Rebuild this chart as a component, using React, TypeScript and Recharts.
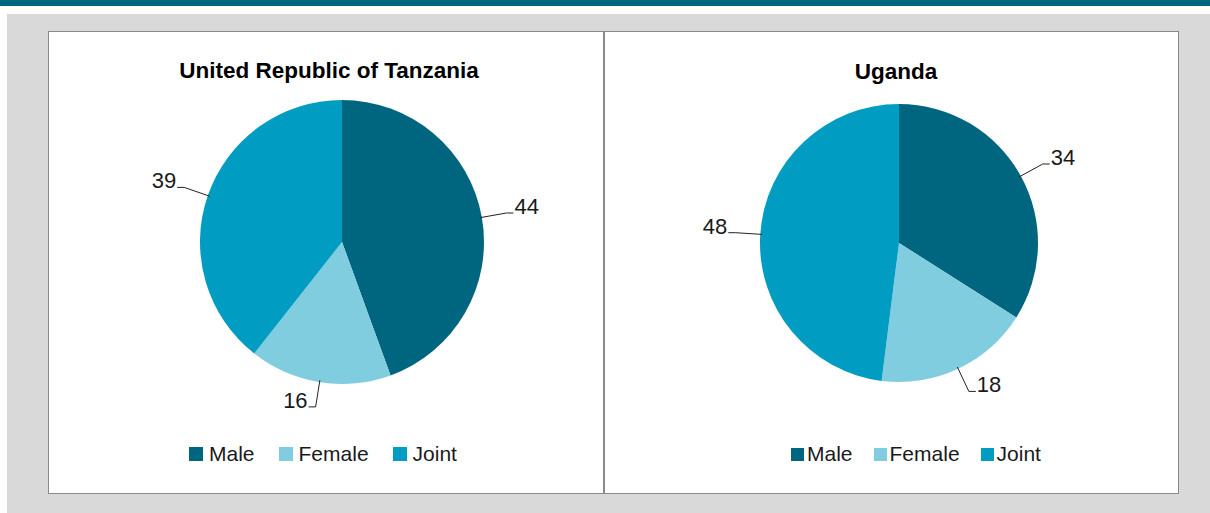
import React from 'react'
import { PieChart, Pie, Cell, Legend } from 'recharts'

const categories = ['Male', 'Female', 'Joint']
const tanzaniaValues = [44, 16, 39]
const ugandaValues = [34, 18, 48]
const colors = ['#00657e', '#80cde0', '#009cc2']

const FONT = '"Liberation Sans", Arial, Helvetica, sans-serif'
const RAD = Math.PI / 180

function toRows(values: number[]) {
  return categories.map((name, i) => ({ name, value: values[i] }))
}

function renderLabel(props: any) {
  const { cx, cy, midAngle, outerRadius, value } = props
  const cos = Math.cos(-midAngle * RAD)
  const sin = Math.sin(-midAngle * RAD)
  const sx = cx + (outerRadius - 2) * cos
  const sy = cy + (outerRadius - 2) * sin
  const mx = cx + (outerRadius + 25) * cos
  const my = cy + (outerRadius + 25) * sin
  const ex = mx + (cos >= 0 ? 1 : -1) * 7
  return (
    <g>
      <polyline points={`${sx},${sy} ${mx},${my} ${ex},${my}`} fill="none" stroke="#222" strokeWidth={1} />
      <text
        x={ex + (cos >= 0 ? 1 : -1)}
        y={my + 1}
        textAnchor={cos >= 0 ? 'start' : 'end'}
        fontSize={22}
        fontFamily={FONT}
        fill="#1a1a1a"
      >
        {value}
      </text>
    </g>
  )
}

function makeLegend(left: number, box: number, gap: number, spacing: number) {
  return () => (
    <div style={{ display: 'flex', alignItems: 'center', paddingLeft: left, fontFamily: FONT, fontSize: 21, color: '#1a1a1a' }}>
      {categories.map((c, i) => (
        <div key={c} style={{ display: 'flex', alignItems: 'center', marginRight: spacing }}>
          <span style={{ width: box, height: box, background: colors[i], display: 'inline-block', marginRight: gap }} />
          <span>{c}</span>
        </div>
      ))}
    </div>
  )
}

function Panel({ title, values, width, cx, cy, r, titleX, titleY, legend }: {
  title: string
  values: number[]
  width: number
  cx: number
  cy: number
  r: number
  titleX: number
  titleY: number
  legend: () => React.ReactElement
}) {
  return (
    <div style={{ position: 'relative', width, height: 461 }}>
      <div style={{
        position: 'absolute', left: titleX - 250, width: 500, top: titleY - 14, textAlign: 'center',
        fontFamily: FONT, fontWeight: 'bold', fontSize: 22.5, color: '#000',
      }}>
        {title}
      </div>
      <PieChart width={width} height={461} margin={{ top: 0, right: 0, bottom: 0, left: 0 }}>
        <Pie
          data={toRows(values)}
          dataKey="value"
          nameKey="name"
          cx={cx}
          cy={cy}
          outerRadius={r}
          startAngle={90}
          endAngle={-270}
          stroke="none"
          label={renderLabel}
          labelLine={false}
          isAnimationActive={false}
        >
          {values.map((_, i) => <Cell key={i} fill={colors[i]} />)}
        </Pie>
        <Legend content={legend} wrapperStyle={{ top: 410, left: 0, width }} />
      </PieChart>
    </div>
  )
}

export default function App() {
  return (
    <div style={{ position: 'absolute', left: 0, top: 0, width: 1210, height: 513, background: '#fff', overflow: 'hidden' }}>
      <div style={{ position: 'absolute', left: 0, top: 0, width: 1210, height: 6, background: '#006680' }} />
      <div style={{ position: 'absolute', left: 7, top: 14, width: 1203, height: 499, background: '#d9d9d9' }} />
      <div style={{ position: 'absolute', left: 48, top: 31, display: 'flex', border: '1px solid #8a8a8a', background: '#fff' }}>
        <div style={{ borderRight: '2px solid #8a8a8a' }}>
          <Panel
            title="United Republic of Tanzania"
            values={tanzaniaValues}
            width={554}
            cx={293}
            cy={210}
            r={142}
            titleX={280}
            titleY={40}
            legend={makeLegend(140, 14, 6, 24)}
          />
        </div>
        <Panel
          title="Uganda"
          values={ugandaValues}
          width={573}
          cx={294}
          cy={211}
          r={139}
          titleX={291}
          titleY={41}
          legend={makeLegend(186, 13, 3, 21)}
        />
      </div>
    </div>
  )
}
